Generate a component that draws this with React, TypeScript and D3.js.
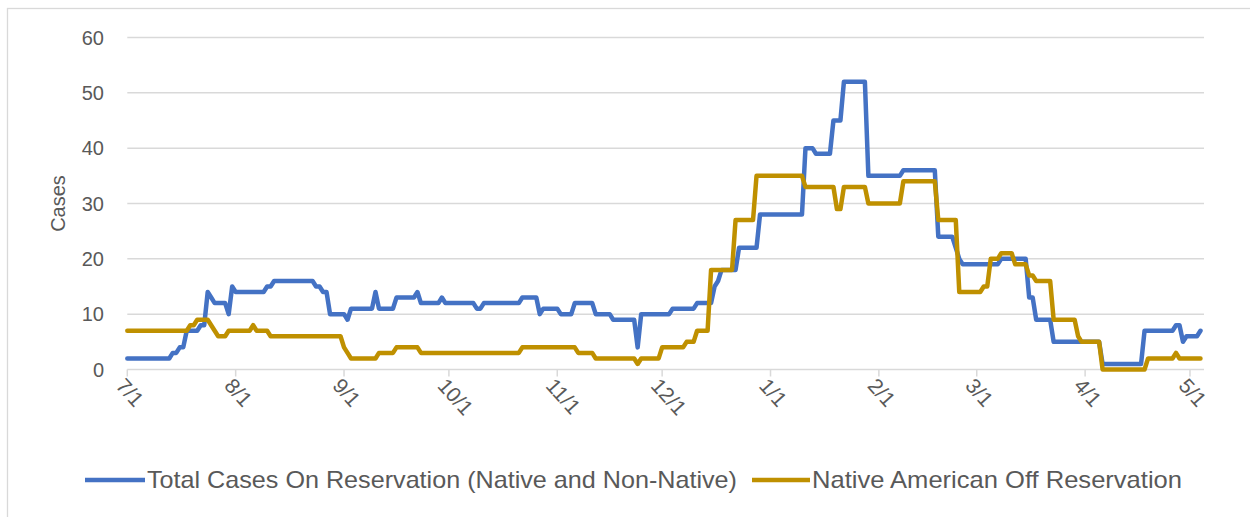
import React, { useEffect, useRef } from "react";
import * as d3 from "d3";

const startDate = new Date(Date.UTC(2020, 6, 1));
const lastDay = 307;

// change points: [days since 7/1, cases]
const totalOnReservation = [
  [0, 2], [13, 3], [15, 4], [17, 7], [21, 8], [23, 14], [24, 13], [25, 12], [29, 10], [30, 15],
  [31, 14], [40, 15], [42, 16], [54, 15], [56, 14], [58, 10], [63, 9], [64, 11], [71, 14], [72, 11],
  [77, 13], [83, 14], [84, 12], [90, 13], [91, 12], [100, 11], [102, 12], [113, 13], [118, 10], [119, 11],
  [124, 10], [128, 12], [134, 10], [139, 9], [146, 4], [147, 10], [156, 11], [163, 12], [168, 15], [169, 16],
  [170, 18], [175, 22], [181, 28], [194, 40], [197, 39], [202, 45], [205, 52], [212, 35], [222, 36], [232, 24],
  [237, 22], [238, 20], [239, 19], [250, 20], [258, 13], [260, 9], [265, 5], [279, 1], [291, 7], [300, 8],
  [302, 5], [303, 6], [307, 7],
];

const nativeOffReservation = [
  [0, 7], [18, 8], [20, 9], [24, 8], [25, 7], [26, 6], [29, 7], [36, 8], [37, 7], [41, 6],
  [62, 4], [63, 3], [64, 2], [72, 3], [77, 4], [84, 3], [113, 4], [129, 3], [134, 2], [146, 1],
  [147, 2], [153, 4], [160, 5], [163, 7], [167, 18], [174, 27], [180, 35], [194, 33], [203, 29], [205, 33],
  [212, 30], [222, 34], [232, 27], [238, 14], [245, 15], [247, 20], [250, 21], [254, 19], [258, 17], [260, 16],
  [265, 9], [272, 6], [273, 5], [279, 0], [292, 2], [300, 3], [301, 2],
];

const yTicks = [0, 10, 20, 30, 40, 50, 60];
const seriesNames = ["Total Cases On Reservation (Native and Non-Native)", "Native American Off Reservation"];
const seriesColors = ["#4472C4", "#BF9000"];

// one value per day, holding each read value until the next change
function daily(changes) {
  const out = [];
  let k = 0;
  for (let d = 0; d <= lastDay; d++) {
    while (k + 1 < changes.length && changes[k + 1][0] <= d) k++;
    out.push({ date: d3.utcDay.offset(startDate, d), value: changes[k][1] });
  }
  return out;
}

export default function App() {
  const ref = useRef(null);

  useEffect(() => {
    const width = 1250;
    const height = 517;
    const svg = d3.select(ref.current);
    svg.selectAll("*").remove();

    const font = "'Liberation Sans', Arial, sans-serif";
    const textColor = "#595959";
    const grid = "#d9d9d9";

    const x = d3.scaleUtc()
      .domain([startDate, d3.utcDay.offset(startDate, lastDay)])
      .range([127.3, 127.3 + lastDay * 3.4957]);

    const y = d3.scaleLinear()
      .domain([0, 60])
      .range([369.5, 37.5]);

    // chart area border
    svg.append("rect")
      .attr("x", 7.5).attr("y", 8.5)
      .attr("width", width).attr("height", height)
      .attr("fill", "white")
      .attr("stroke", grid)
      .attr("stroke-width", 1.3);

    // gridlines
    svg.append("g")
      .selectAll("line")
      .data(yTicks)
      .join("line")
      .attr("x1", x.range()[0]).attr("x2", 1204)
      .attr("y1", d => y(d)).attr("y2", d => y(d))
      .attr("stroke", grid)
      .attr("stroke-width", 1.5);

    // y labels
    svg.append("g")
      .selectAll("text")
      .data(yTicks)
      .join("text")
      .attr("x", 104)
      .attr("y", d => y(d))
      .attr("dy", "0.36em")
      .attr("text-anchor", "end")
      .attr("font-family", font)
      .attr("font-size", 20)
      .attr("fill", textColor)
      .text(d => d);

    svg.append("text")
      .attr("transform", `translate(65,${y(30)}) rotate(-90)`)
      .attr("text-anchor", "middle")
      .attr("font-family", font)
      .attr("font-size", 20)
      .attr("fill", textColor)
      .text("Cases");

    // x axis ticks + rotated labels
    const months = d3.utcMonth.range(startDate, d3.utcDay.offset(startDate, lastDay + 1));
    const fmt = d3.utcFormat("%-m/%-d");
    const xg = svg.append("g");
    xg.selectAll("line")
      .data(months)
      .join("line")
      .attr("x1", d => x(d)).attr("x2", d => x(d))
      .attr("y1", y(0)).attr("y2", y(0) + 7)
      .attr("stroke", grid)
      .attr("stroke-width", 1.5);
    xg.selectAll("text")
      .data(months)
      .join("text")
      .attr("transform", d => `translate(${x(d) - 7},${y(0) + 12}) rotate(48)`)
      .attr("dy", "0.35em")
      .attr("font-family", font)
      .attr("font-size", 21)
      .attr("fill", textColor)
      .text(d => fmt(d));

    // lines
    const line = d3.line()
      .x(d => x(d.date))
      .y(d => y(d.value));

    [totalOnReservation, nativeOffReservation].forEach((s, i) => {
      svg.append("path")
        .datum(daily(s))
        .attr("fill", "none")
        .attr("stroke", seriesColors[i])
        .attr("stroke-width", 4.5)
        .attr("stroke-linejoin", "round")
        .attr("stroke-linecap", "round")
        .attr("d", line);
    });

    // legend
    const legend = [
      { x1: 85, x2: 145, tx: 147, len: 590 },
      { x1: 752, x2: 810, tx: 812, len: 370 },
    ];
    legend.forEach((l, i) => {
      svg.append("line")
        .attr("x1", l.x1).attr("x2", l.x2)
        .attr("y1", 480).attr("y2", 480)
        .attr("stroke", seriesColors[i])
        .attr("stroke-width", 4.5);
      svg.append("text")
        .attr("x", l.tx).attr("y", 480)
        .attr("dy", "0.35em")
        .attr("font-family", font)
        .attr("font-size", 24)
        .attr("fill", textColor)
        .attr("textLength", l.len)
        .attr("lengthAdjust", "spacingAndGlyphs")
        .text(seriesNames[i]);
    });
  }, []);

  return (
    <svg
      ref={ref}
      width={1250}
      height={517}
      style={{ position: "absolute", left: 0, top: 0, background: "white" }}
    />
  );
}
